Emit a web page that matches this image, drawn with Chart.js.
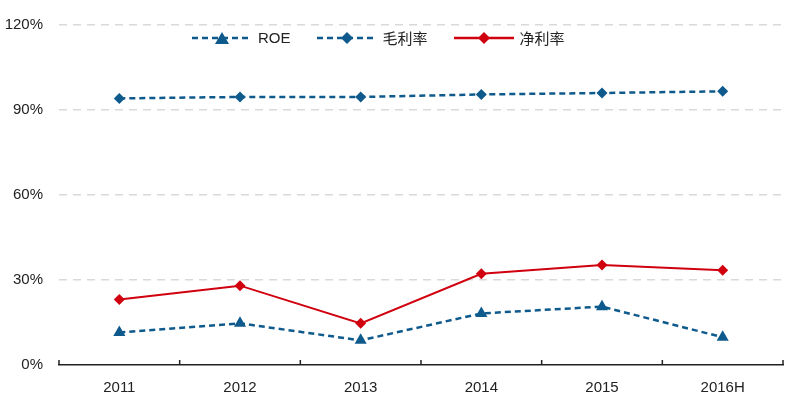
<!DOCTYPE html>
<html>
<head>
<meta charset="utf-8">
<script src="https://cdn.jsdelivr.net/npm/chart.js@4"></script>
<style>
    body { margin: 0; background: #fff; }
    #wrap { position: relative; width: 800px; height: 412px; }
    #legend { position: absolute; left: 192px; top: 27px; display: flex; font-family: 'Liberation Sans', 'Noto Sans CJK SC', sans-serif; font-size: 15px; color: #222; }
    .item { display: flex; align-items: center; margin-right: 26px; }
    .item svg { margin-right: 6px; }
</style>
</head>
<body>
<div id="wrap">
    <canvas id="grafico" width="800" height="412"></canvas>
    <div id="legend"></div>
</div>
<script>
const anos = ['2011', '2012', '2013', '2014', '2015', '2016H'];
const roe = [11.5, 14.7, 8.7, 18.2, 20.6, 9.8];
const margemBruta = [94.1, 94.6, 94.6, 95.5, 96.0, 96.6];
const margemLiquida = [23.1, 28.0, 14.7, 32.2, 35.3, 33.4];
const ticksY = [0, 30, 60, 90, 120];
const nomes = ['ROE', '毛利率', '净利率'];

const azul = '#0f5a8c';
const vermelho = '#d0000f';

// legenda em html, com linha e marcador
const simbolos = [
    { cor: azul, dash: '6 4', marca: '<polygon points="30,2 37,14 23,14" fill="' + azul + '"/>' },
    { cor: azul, dash: '6 4', marca: '<polygon points="30,2 36,8 30,14 24,8" fill="' + azul + '"/>' },
    { cor: vermelho, dash: '', marca: '<polygon points="30,2 36,8 30,14 24,8" fill="' + vermelho + '"/>' }
];
const legend = document.getElementById('legend');
nomes.forEach(function (nome, i) {
    const s = simbolos[i];
    const div = document.createElement('div');
    div.className = 'item';
    div.innerHTML = '<svg width="60" height="16"><line x1="0" y1="8" x2="60" y2="8" stroke="' + s.cor +
        '" stroke-width="2.5" stroke-dasharray="' + s.dash + '"/>' + s.marca + '</svg><span>' + nome + '</span>';
    legend.appendChild(div);
});

// marcas do eixo x viradas para dentro
const marcasEixo = {
    id: 'marcasEixo',
    afterDraw(chart) {
        const x = chart.scales.x;
        const ctx = chart.ctx;
        ctx.save();
        ctx.strokeStyle = '#222';
        ctx.lineWidth = 1.5;
        for (let i = 0; i <= anos.length; i++) {
            const px = x.getPixelForValue(i - 0.5);
            ctx.beginPath();
            ctx.moveTo(px, x.top);
            ctx.lineTo(px, x.top - 5);
            ctx.stroke();
        }
        ctx.restore();
    }
};

const grafico = document.getElementById('grafico');

new Chart(grafico, {
    type: 'line',
    data: {
        labels: anos,
        datasets: [
            {
                label: nomes[0],
                data: roe,
                borderColor: azul,
                backgroundColor: azul,
                borderWidth: 2.5,
                borderDash: [6, 4],
                pointStyle: 'triangle',
                pointRadius: 7,
                pointBorderWidth: 0,
                tension: 0
            },
            {
                label: nomes[1],
                data: margemBruta,
                borderColor: azul,
                backgroundColor: azul,
                borderWidth: 2.5,
                borderDash: [6, 4],
                pointStyle: 'rectRot',
                pointRadius: 5.5,
                pointBorderWidth: 0,
                tension: 0
            },
            {
                label: nomes[2],
                data: margemLiquida,
                borderColor: vermelho,
                backgroundColor: vermelho,
                borderWidth: 2,
                pointStyle: 'rectRot',
                pointRadius: 5.5,
                pointBorderWidth: 0,
                tension: 0
            }
        ]
    },
    options: {
        responsive: false,
        animation: false,
        layout: {
            padding: { left: 0, right: 17, top: 22, bottom: 0 }
        },
        scales: {
            x: {
                offset: true,
                grid: { display: false },
                border: { display: true, color: '#222', width: 1.5 },
                ticks: {
                    padding: 6,
                    color: '#222',
                    font: { family: 'Liberation Sans', size: 15 }
                },
                afterFit(scale) { scale.height = 47; }
            },
            y: {
                min: 0,
                max: 120,
                afterBuildTicks(scale) {
                    scale.ticks = ticksY.map(v => ({ value: v }));
                },
                grid: {
                    color: (c) => c.tick.value === 0 ? 'rgba(0,0,0,0)' : '#d9d9d9',
                    lineWidth: 1.5,
                    drawTicks: false
                },
                border: { display: false, dash: [8, 6] },
                ticks: {
                    padding: 16,
                    color: '#222',
                    font: { family: 'Liberation Sans', size: 15 },
                    callback: (v) => v + '%'
                },
                afterFit(scale) { scale.width = 59; }
            }
        },
        plugins: {
            legend: { display: false },
            tooltip: { enabled: false }
        }
    },
    plugins: [marcasEixo]
});
</script>
</body>
</html>
